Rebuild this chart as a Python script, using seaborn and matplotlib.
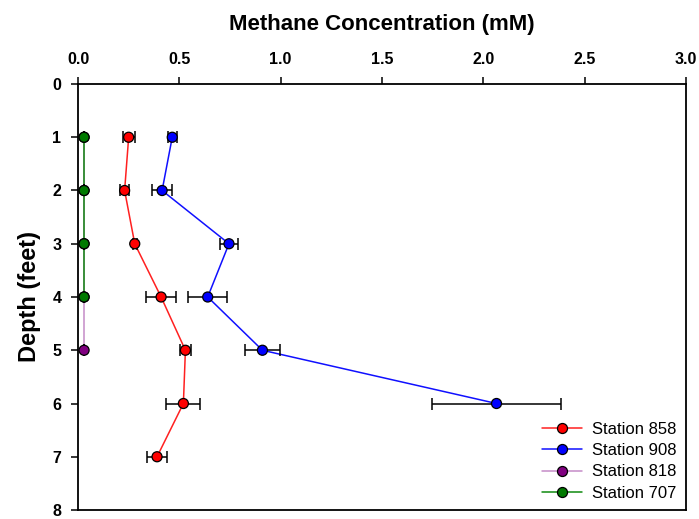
import matplotlib
matplotlib.use("Agg")
import matplotlib.pyplot as plt
from matplotlib.lines import Line2D
import numpy as np
import pandas as pd
import seaborn as sns

# Methane concentration (mM) by sediment depth (feet) at each station
stations = ["Station 858", "Station 908", "Station 818", "Station 707"]

depth_858 = [1, 2, 3, 4, 5, 6, 7]
conc_858 = [0.25, 0.23, 0.28, 0.41, 0.53, 0.52, 0.39]
err_858 = [0.03, 0.022, 0.01, 0.074, 0.028, 0.084, 0.05]

depth_908 = [1, 2, 3, 4, 5, 6]
conc_908 = [0.465, 0.415, 0.745, 0.64, 0.91, 2.065]
err_908 = [0.022, 0.05, 0.043, 0.097, 0.085, 0.32]

depth_818 = [1, 2, 3, 4, 5]
conc_818 = [0.03, 0.03, 0.03, 0.03, 0.03]
err_818 = [0.0, 0.0, 0.0, 0.0, 0.0]

depth_707 = [1, 2, 3, 4]
conc_707 = [0.03, 0.03, 0.03, 0.03]
err_707 = [0.0, 0.0, 0.0, 0.0]

line_colors = {"Station 858": "#ff2020", "Station 908": "#1010ff",
               "Station 818": "#c58cc8", "Station 707": "#108a10"}
marker_colors = {"Station 858": "#ff0000", "Station 908": "#0000ff",
                 "Station 818": "#800080", "Station 707": "#007a00"}

frames = []
for name, d, c, e in [
    ("Station 858", depth_858, conc_858, err_858),
    ("Station 908", depth_908, conc_908, err_908),
    ("Station 818", depth_818, conc_818, err_818),
    ("Station 707", depth_707, conc_707, err_707),
]:
    frames.append(pd.DataFrame({"station": name, "depth": d, "conc": c, "err": e}))
df = pd.concat(frames, ignore_index=True)

sns.set_style("ticks")
plt.rcParams["font.family"] = ["Liberation Sans", "DejaVu Sans"]
plt.rcParams["text.color"] = "black"
plt.rcParams["axes.labelcolor"] = "black"

fig = plt.figure(figsize=(6.99, 5.19), dpi=100)
ax = fig.add_axes([78 / 699, 1 - 510 / 519, 608 / 699, 426 / 519])

sns.lineplot(data=df, x="conc", y="depth", hue="station", hue_order=stations,
             palette=line_colors, orient="y", estimator=None, sort=False,
             linewidth=1.1, legend=False, ax=ax, zorder=2)

for name in stations:
    sub = df[df["station"] == name]
    ax.errorbar(sub["conc"], sub["depth"], xerr=sub["err"], fmt="none",
                ecolor="black", elinewidth=1.1, capsize=4.3, capthick=1.1,
                zorder=3)

sns.scatterplot(data=df, x="conc", y="depth", hue="station", hue_order=stations,
                palette=marker_colors, s=52, edgecolor="black", linewidth=0.9,
                legend=False, ax=ax, zorder=4)

ax.set_xlim(0, 3.0)
ax.set_ylim(8, 0)
ax.set_xticks(np.arange(0, 3.01, 0.5))
ax.set_xticklabels([f"{v:.1f}" for v in np.arange(0, 3.01, 0.5)])
ax.set_yticks(range(0, 9))
ax.xaxis.set_ticks_position("top")
ax.xaxis.set_label_position("top")

for side in ["top", "bottom", "left", "right"]:
    ax.spines[side].set_visible(True)
    ax.spines[side].set_color("black")
    ax.spines[side].set_linewidth(1.3)

ax.tick_params(axis="x", direction="out", length=5, width=1.1, pad=7,
               labelsize=11.5, colors="black")
ax.tick_params(axis="y", direction="out", length=5, width=1.1, pad=7,
               labelsize=11.5, colors="black")
for lab in ax.get_xticklabels() + ax.get_yticklabels():
    lab.set_fontweight("bold")

ax.set_xlabel("Methane Concentration (mM)", fontsize=16, fontweight="bold",
              labelpad=16, color="black")
ax.set_ylabel("Depth (feet)", fontsize=17, fontweight="bold", labelpad=8,
              color="black")

handles = [Line2D([0], [0], color=line_colors[n], lw=1.1, marker="o",
                  markersize=7.2, markerfacecolor=marker_colors[n],
                  markeredgecolor="black", markeredgewidth=0.9)
           for n in stations]
leg = ax.legend(handles, stations, loc="lower right", frameon=False, fontsize=12,
                handlelength=2.4, handletextpad=0.6, labelspacing=0.38,
                borderaxespad=0.15)
for t in leg.get_texts():
    t.set_color("black")

fig.savefig("out.png", dpi=100)
